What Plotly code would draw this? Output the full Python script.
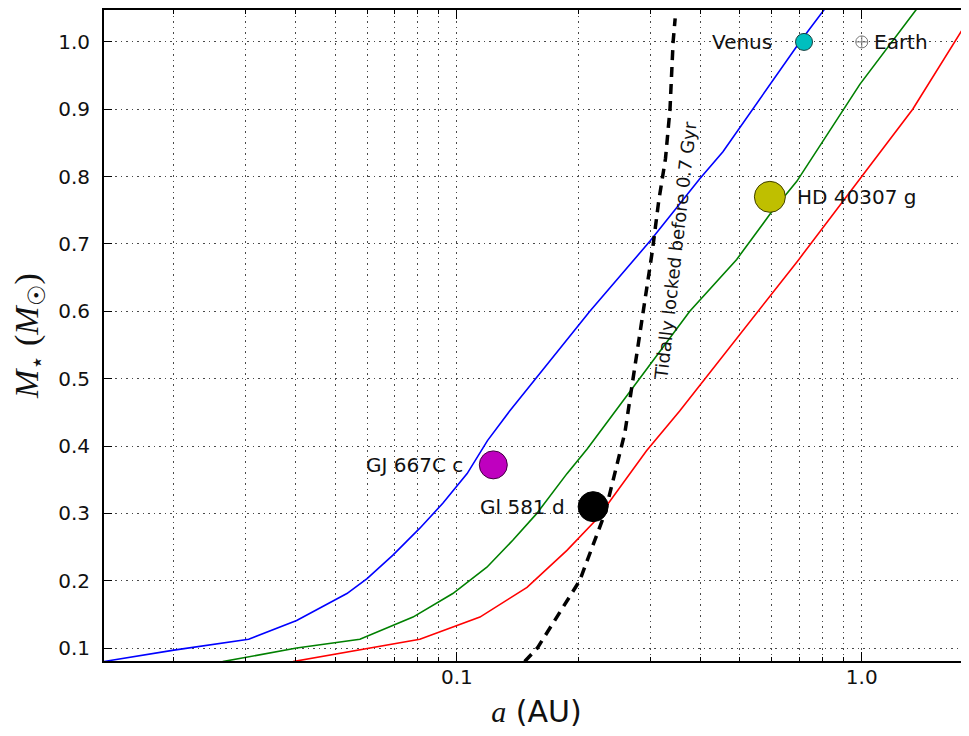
import numpy as np
import plotly.graph_objects as go

# ---- data (semi-major axis a [AU], stellar mass M [Msun]) ----
blue_a = [0.0134, 0.020, 0.0306, 0.0402, 0.0535, 0.060, 0.0695, 0.081, 0.0923, 0.106,
          0.119, 0.135, 0.213, 0.2996, 0.398, 0.454, 0.703, 0.81]
blue_m = [0.080, 0.097, 0.113, 0.141, 0.181, 0.203, 0.238, 0.278, 0.315, 0.359,
          0.408, 0.452, 0.600, 0.704, 0.797, 0.837, 1.000, 1.049]

green_a = [0.0264, 0.0402, 0.0576, 0.0779, 0.0977, 0.1186, 0.1374, 0.1576, 0.187, 0.21,
           0.376, 0.491, 0.593, 0.691, 0.989, 1.367]
green_m = [0.080, 0.100, 0.113, 0.146, 0.181, 0.220, 0.260, 0.300, 0.359, 0.396,
           0.600, 0.677, 0.744, 0.793, 0.937, 1.049]

red_a = [0.0394, 0.081, 0.114, 0.149, 0.187, 0.222, 0.294, 0.355, 0.697, 1.336, 1.84]
red_m = [0.080, 0.113, 0.146, 0.190, 0.245, 0.292, 0.393, 0.452, 0.676, 0.900, 1.034]

tidal_a = [0.147, 0.158, 0.201, 0.232, 0.260, 0.276, 0.292, 0.304, 0.315, 0.3275, 0.336, 0.342, 0.346]
tidal_m = [0.080, 0.100, 0.200, 0.300, 0.420, 0.520, 0.615, 0.690, 0.763, 0.827, 0.900, 1.000, 1.035]

planet_names = ["Venus", "Earth", "HD 40307 g", "GJ 667C c", "Gl 581 d"]
planet_a = [0.72, 1.0, 0.593, 0.123, 0.217]
planet_m = [1.00, 1.00, 0.770, 0.372, 0.310]

x_major = [0.1, 1.0]
x_major_text = ["0.1", "1.0"]
x_minor = [0.02, 0.03, 0.04, 0.05, 0.06, 0.07, 0.08, 0.09,
           0.2, 0.3, 0.4, 0.5, 0.6, 0.7, 0.8, 0.9]
y_ticks = [0.1, 0.2, 0.3, 0.4, 0.5, 0.6, 0.7, 0.8, 0.9, 1.0]

tidal_label = "Tidally locked before 0.7 Gyr"

# ---- figure ----
fig = go.Figure()
for xa, ym, col in [(blue_a, blue_m, "#0000FF"), (green_a, green_m, "#008000"), (red_a, red_m, "#FF0000")]:
    fig.add_trace(go.Scatter(x=xa, y=ym, mode="lines", line=dict(color=col, width=1.6),
                             showlegend=False, hoverinfo="skip"))
fig.add_trace(go.Scatter(x=tidal_a, y=tidal_m, mode="lines",
                         line=dict(color="black", width=3.5, dash="10px,7px"),
                         showlegend=False, hoverinfo="skip"))

styles = {
    "Venus": dict(symbol="circle", size=17, color="#00BFBF", line=dict(color="#1a4040", width=1)),
    "Earth": dict(symbol="circle-cross-open", size=12, color="#777777", line=dict(color="#777777", width=1)),
    "HD 40307 g": dict(symbol="circle", size=31, color="#BFBF00", line=dict(color="#404000", width=1)),
    "GJ 667C c": dict(symbol="circle", size=28, color="#BF00BF", line=dict(color="#400040", width=1)),
    "Gl 581 d": dict(symbol="circle", size=30, color="#000000", line=dict(color="#000000", width=1)),
}
label_side = {"Venus": -1, "Earth": 1, "HD 40307 g": 1, "GJ 667C c": -1, "Gl 581 d": -1}
label_gap = {"Venus": 30, "Earth": 10, "HD 40307 g": 25, "GJ 667C c": 28, "Gl 581 d": 26}

for name, a, m in zip(planet_names, planet_a, planet_m):
    fig.add_trace(go.Scatter(x=[a], y=[m], mode="markers", marker=styles[name],
                             showlegend=False, name=name))
    side = label_side[name]
    fig.add_annotation(x=np.log10(a), y=m, xref="x", yref="y", text=name, showarrow=False,
                       xanchor="left" if side > 0 else "right", xshift=side * label_gap[name],
                       font=dict(family="DejaVu Sans", size=20, color="#111111"))

fig.add_annotation(x=np.log10(0.347), y=0.69, xref="x", yref="y", text=tidal_label,
                   showarrow=False, textangle=-83.5,
                   font=dict(family="DejaVu Sans", size=18, color="#111111"))

grid_color = "#4a4a4a"
fig.update_xaxes(
    type="log", range=[np.log10(0.01344), np.log10(1.84)],
    tickmode="array", tickvals=x_major, ticktext=x_major_text,
    ticks="inside", ticklen=9, tickwidth=1, tickcolor="black",
    showline=True, linecolor="black", linewidth=1.8, mirror="ticks",
    showgrid=True, gridcolor=grid_color, gridwidth=1, griddash="1.5px,4px",
    minor=dict(tickvals=x_minor, ticks="inside", ticklen=4, tickcolor="black",
               showgrid=True, gridcolor=grid_color, gridwidth=1, griddash="1.5px,4px"),
    tickfont=dict(family="DejaVu Sans", size=20, color="#111111"),
    ticklabelstandoff=-3,
    title=dict(text='<span style="font-family:Liberation Serif"><i>a</i></span> (AU)',
               font=dict(family="DejaVu Sans", size=30, color="#111111"), standoff=13),
    zeroline=False,
)
fig.update_yaxes(
    range=[0.0808, 1.0474],
    tickmode="array", tickvals=y_ticks, tickformat=".1f",
    ticks="inside", ticklen=8, tickwidth=1, tickcolor="black",
    showline=True, linecolor="black", linewidth=1.8, mirror=False,
    showgrid=True, gridcolor=grid_color, gridwidth=1, griddash="1.5px,4px",
    tickfont=dict(family="DejaVu Sans", size=20, color="#111111"),
    ticklabelstandoff=8,
    title=dict(text="<i>M</i><sub>⋆</sub> (<i>M</i><sub>☉</sub>)",
               font=dict(family="Liberation Serif", size=34, color="#111111"), standoff=10),
    zeroline=False,
)
# page body has an 8px default margin, so the figure is sized to fill the rest of the window
fig.update_layout(
    width=961, height=728,
    margin=dict(l=96, r=0, t=0, b=75),
    plot_bgcolor="white", paper_bgcolor="white",
    showlegend=False,
)
fig.write_html("out.html")
